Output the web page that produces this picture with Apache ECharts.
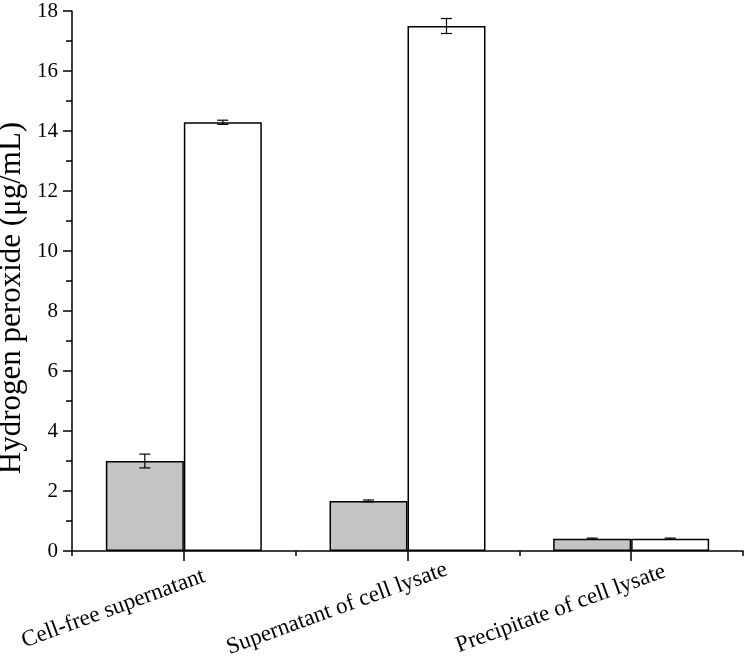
<!DOCTYPE html>
<html>
<head>
<meta charset="utf-8">
<script src="https://cdn.jsdelivr.net/npm/echarts@6/dist/echarts.min.js"></script>
<style>html,body{margin:0;padding:0;background:#fff}#c{width:747px;height:657px}</style>
</head>
<body>
<div id="c"></div>
<script>
const categories = ['Cell-free supernatant', 'Supernatant of cell lysate', 'Precipitate of cell lysate'];
const grayValues = [3.0, 1.67, 0.41];
const grayErrors = [0.23, 0.03, 0.02];
const whiteValues = [14.29, 17.5, 0.41];
const whiteErrors = [0.07, 0.25, 0.02];
const yTicks = [0, 2, 4, 6, 8, 10, 12, 14, 16, 18];

const BAR_W = 78;
const FONT = '"Liberation Serif", "Times New Roman", serif';

function errSeries(vals, errs, dx) {
  return {
    type: 'custom',
    xAxisIndex: 0,
    z: 10,
    data: vals.map((v, i) => [i, v, errs[i]]),
    renderItem: function (params, api) {
      const i = api.value(0), v = api.value(1), e = api.value(2);
      const hi = api.coord([i, v + e]);
      const lo = api.coord([i, v - e]);
      const x = hi[0] + dx;
      const cw = 5.5;
      const st = { stroke: '#000', lineWidth: 1.2 };
      return {
        type: 'group',
        children: [
          { type: 'line', shape: { x1: x, y1: hi[1], x2: x, y2: lo[1] }, style: st },
          { type: 'line', shape: { x1: x - cw, y1: hi[1], x2: x + cw, y2: hi[1] }, style: st },
          { type: 'line', shape: { x1: x - cw, y1: lo[1], x2: x + cw, y2: lo[1] }, style: st }
        ]
      };
    }
  };
}

const chart = echarts.init(document.getElementById('c'));
chart.setOption({
  animation: false,
  backgroundColor: '#fff',
  textStyle: { fontFamily: FONT, color: '#000' },
  grid: { left: 72, right: 4, top: 11, bottom: 106, containLabel: false, outerBoundsMode: 'none' },
  xAxis: [{
    type: 'category',
    data: categories,
    position: 'bottom',
    axisLine: { show: true, lineStyle: { color: '#000', width: 1.5 } },
    axisTick: { show: true, alignWithLabel: true, length: 10, lineStyle: { color: '#000', width: 1.5 } },
    axisLabel: { show: true, rotate: 20, margin: 32, align: 'center', verticalAlign: 'middle',
      fontSize: 23, fontFamily: FONT, color: '#000', interval: 0, padding: [40, 150, 0, 0] },
    splitLine: { show: false }
  }, {
    type: 'category',
    data: categories,
    position: 'bottom',
    axisLine: { show: false },
    axisTick: { show: true, length: 5, lineStyle: { color: '#000', width: 1.5 } },
    axisLabel: { show: false },
    splitLine: { show: false }
  }],
  yAxis: {
    type: 'value',
    min: 0, max: 18, interval: 2,
    name: 'Hydrogen peroxide (μg/mL)',
    nameLocation: 'middle',
    nameGap: 45,
    nameMoveOverlap: false,
    nameTextStyle: { fontSize: 31, fontFamily: FONT, color: '#000', padding: [4, 34, 0, 0] },
    axisLine: { show: true, lineStyle: { color: '#000', width: 1.5 } },
    axisTick: { show: true, length: 9, lineStyle: { color: '#000', width: 1.5 } },
    minorTick: { show: true, splitNumber: 2, length: 6, lineStyle: { color: '#000', width: 1.5 } },
    axisLabel: { fontSize: 21, fontFamily: FONT, color: '#000', margin: 14,
      formatter: v => yTicks.includes(v) ? String(v) : '' },
    splitLine: { show: false }
  },
  series: [{
    type: 'bar',
    xAxisIndex: 0,
    data: grayValues,
    barWidth: BAR_W,
    barGap: '0%',
    itemStyle: { color: '#c4c4c4', borderColor: '#000', borderWidth: 1.5 }
  }, {
    type: 'bar',
    xAxisIndex: 0,
    data: whiteValues,
    barWidth: BAR_W,
    barGap: '0%',
    itemStyle: { color: '#ffffff', borderColor: '#000', borderWidth: 1.5 }
  },
  errSeries(grayValues, grayErrors, -BAR_W / 2),
  errSeries(whiteValues, whiteErrors, BAR_W / 2)
  ]
});
</script>
</body>
</html>
